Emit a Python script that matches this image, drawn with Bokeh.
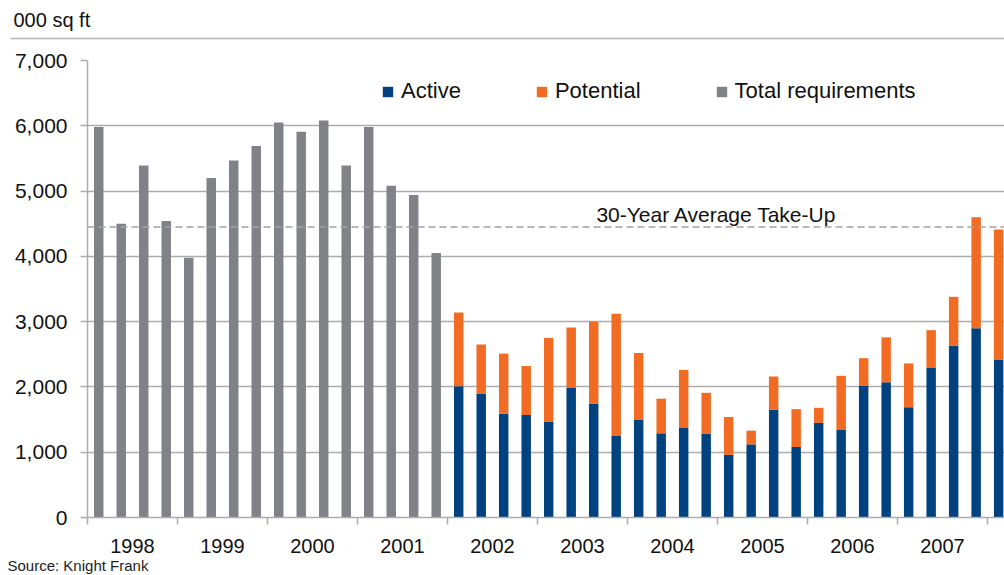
from bokeh.plotting import figure
from bokeh.layouts import column
from bokeh.models import (Range1d, FixedTicker, NumeralTickFormatter, Legend, LegendItem,
                          Label, Span, ColumnDataSource)
from bokeh.core.properties import value
from bokeh.embed import file_html
from bokeh.resources import INLINE

# ---------------- data ----------------
years = ["1998", "1999", "2000", "2001", "2002", "2003", "2004", "2005", "2006", "2007"]
quarters_per_year = 4

# Total requirements, 1998 Q1 - 2001 Q4 (000 sq ft)
total_requirements = [5980, 4500, 5390, 4540,
                      3980, 5200, 5470, 5690,
                      6050, 5910, 6080, 5390,
                      5980, 5080, 4940, 4050]

# Active / Potential, 2002 Q1 - 2008 Q1 (000 sq ft)
active = [2010, 1900, 1590, 1570,
          1470, 1990, 1740, 1250,
          1500, 1290, 1370, 1280,
          960, 1120, 1650, 1080,
          1450, 1340, 2020, 2070,
          1690, 2290, 2630, 2900,
          2420]
potential = [1130, 750, 920, 750,
             1280, 920, 1260, 1870,
             1020, 530, 890, 630,
             580, 210, 510, 580,
             230, 830, 420, 690,
             670, 580, 750, 1700,
             1990]

average_take_up = 4450
y_ticks = [0, 1000, 2000, 3000, 4000, 5000, 6000, 7000]

unit_label = "000 sq ft"
source_label = "Source: Knight Frank"
average_label = "30-Year Average Take-Up"

NAVY = "#00427F"
ORANGE = "#F26B22"
GREY = "#808288"
GRID = "#ADADAD"
TEXT = "#111111"
FONT = "Liberation Sans"
W = 1004

n_total = len(total_requirements)
x_total = [i + 0.5 for i in range(n_total)]
x_stack = [n_total + i + 0.5 for i in range(len(active))]


def blank_fig(h, y0, y1):
    f = figure(width=W, height=h, output_backend="svg", toolbar_location=None,
               x_range=Range1d(0, W), y_range=Range1d(y0, y1),
               x_axis_type=None, y_axis_type=None,
               min_border=0, min_border_left=0, min_border_right=0,
               min_border_top=0, min_border_bottom=0)
    f.frame_align = False
    f.outline_line_color = None
    f.xgrid.visible = False
    f.ygrid.visible = False
    f.background_fill_color = "white"
    f.border_fill_color = "white"
    return f


# ---------------- header ----------------
header = blank_fig(40, 40, 0)
header.text(x=[13], y=[19], text=[unit_label], text_font=value(FONT),
            text_font_size="20px", text_color=TEXT, text_baseline="alphabetic")
header.segment(x0=[10], y0=[38], x1=[W], y1=[38], line_color="#B5B5B5", line_width=1.5)

# ---------------- main chart ----------------
p = figure(width=W, height=518, output_backend="svg", toolbar_location=None,
           x_range=Range1d(0, 40.76), y_range=Range1d(0, 7000),
           min_border_left=87, min_border_right=0, min_border_top=20, min_border_bottom=41)
p.frame_align = False
p.outline_line_color = None
p.background_fill_color = "white"
p.border_fill_color = "white"

r_total = p.vbar(x=x_total, top=total_requirements, width=0.42,
                 fill_color=GREY, line_color=None)

src = ColumnDataSource(dict(x=x_stack, active=active, potential=potential))
r_active, r_potential = p.vbar_stack(["active", "potential"], x="x", width=0.42,
                                     source=src, fill_color=[NAVY, ORANGE],
                                     line_color=None)

p.add_layout(Span(location=average_take_up, dimension="width", line_color="#A3A3A3",
                  line_width=1.6, line_dash="7 4"))
p.add_layout(Label(x=22.62, y=4640, text=average_label, text_font=FONT,
                   text_font_size="21px", text_color=TEXT,
                   text_baseline="alphabetic"))

p.xgrid.grid_line_color = None
p.ygrid.grid_line_color = GRID
p.ygrid.grid_line_width = 1.5

yax = p.yaxis[0]
yax.ticker = FixedTicker(ticks=y_ticks)
yax.formatter = NumeralTickFormatter(format="0,0")
yax.major_label_text_font = FONT
yax.major_label_text_font_size = "21px"
yax.major_label_text_color = TEXT
yax.major_tick_out = 7
yax.major_tick_in = 0
yax.minor_tick_out = 0
yax.minor_tick_in = 0
yax.major_tick_line_color = GRID
yax.major_tick_line_width = 1.5
yax.axis_line_color = GRID
yax.axis_line_width = 1.5
yax.major_label_standoff = 13

xax = p.xaxis[0]
mids = [quarters_per_year * k + quarters_per_year / 2 for k in range(len(years))]
bounds = [quarters_per_year * k for k in range(len(years) + 1)]
xax.ticker = FixedTicker(ticks=mids, minor_ticks=bounds)
xax.major_label_overrides = {m: y for m, y in zip(mids, years)}
xax.major_label_text_font = FONT
xax.major_label_text_font_size = "20px"
xax.major_label_text_color = TEXT
xax.major_tick_out = 0
xax.major_tick_in = 0
xax.minor_tick_out = 7
xax.minor_tick_in = 0
xax.minor_tick_line_color = GRID
xax.minor_tick_line_width = 1.5
xax.axis_line_color = GRID
xax.axis_line_width = 1.5
xax.major_label_standoff = 14

legend = Legend(items=[LegendItem(label="Active", renderers=[r_active]),
                       LegendItem(label="Potential", renderers=[r_potential]),
                       LegendItem(label="Total requirements", renderers=[r_total])],
                orientation="horizontal", location=(294, 413),
                glyph_width=13, glyph_height=13, label_standoff=7, spacing=74,
                padding=0, margin=0, border_line_color=None,
                background_fill_alpha=0, label_text_font=FONT,
                label_text_font_size="22px", label_text_color=TEXT)
p.add_layout(legend, "center")

# ---------------- footer ----------------
footer = blank_fig(17, 575, 558)
footer.text(x=[7], y=[565], text=[source_label], text_font=value(FONT),
            text_font_size="15px", text_color="#222222", text_baseline="alphabetic")

layout = column(header, p, footer, spacing=0)
open("out.html", "w").write(file_html(layout, INLINE))
